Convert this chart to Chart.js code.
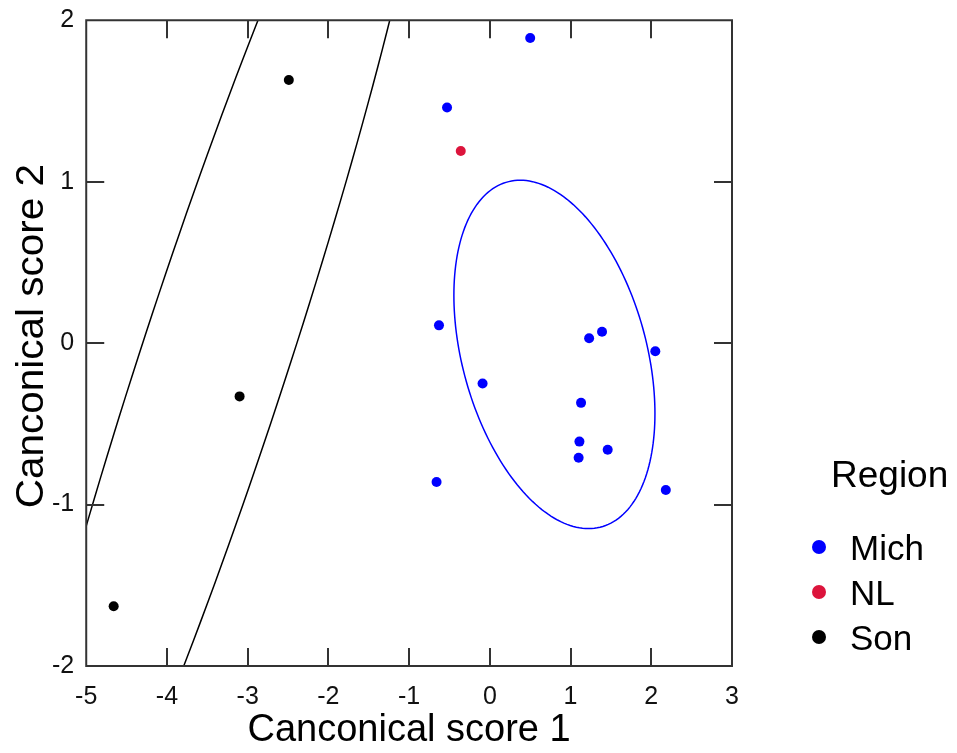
<!DOCTYPE html>
<html>
<head>
<meta charset="utf-8">
<script src="https://cdn.jsdelivr.net/npm/chart.js@4.4.1/dist/chart.umd.min.js"></script>
<style>
  html, body { margin: 0; padding: 0; background: #fff; }
  #wrap { width: 957px; height: 753px; }
</style>
</head>
<body>
<div id="wrap"><canvas id="myChart"></canvas></div>
<script>
const regions = ["Mich", "NL", "Son"];
const regionColors = ["#0000ff", "#dc143c", "#000000"];

const michX = [0.50, -0.53, -0.63, 1.23, 1.39, 2.05, -0.09, 1.13, 1.11, 1.46, 1.10, -0.66, 2.18];
const michY = [1.89, 1.46, 0.11, 0.03, 0.07, -0.05, -0.25, -0.37, -0.61, -0.66, -0.71, -0.86, -0.91];
const nlX = [-0.36];
const nlY = [1.19];
const sonX = [-2.49, -3.10, -4.66];
const sonY = [1.63, -0.33, -1.63];

// group ellipses: centre and covariance (xx, xy, yy)
const ellipseColors = ["#0000ff", "#000000"];
const ellipseCenters = [[0.80, -0.07], [-3.41, -0.10]];
const ellipseCov = [[1.551, -0.456, 1.164], [7.69, 10.51, 16.3]];

const xTicks = [-5, -4, -3, -2, -1, 0, 1, 2, 3];
const yTicks = [-2, -1, 0, 1, 2];

const FONT = "'Liberation Sans', Arial, sans-serif";

function pts(xs, ys) {
  return xs.map((x, i) => ({ x: x, y: ys[i] }));
}

const ellipsePlugin = {
  id: "ellipses",
  beforeDatasetsDraw(chart) {
    const { ctx, chartArea: a, scales: { x, y } } = chart;
    ctx.save();
    ctx.beginPath();
    ctx.rect(a.left, a.top, a.right - a.left, a.bottom - a.top);
    ctx.clip();
    ellipseCenters.forEach((c, k) => {
      const [sxx, sxy, syy] = ellipseCov[k];
      const l11 = Math.sqrt(sxx);
      const l21 = sxy / l11;
      const l22 = Math.sqrt(syy - l21 * l21);
      ctx.beginPath();
      for (let i = 0; i <= 200; i++) {
        const t = (i / 200) * Math.PI * 2;
        const px = x.getPixelForValue(c[0] + l11 * Math.cos(t));
        const py = y.getPixelForValue(c[1] + l21 * Math.cos(t) + l22 * Math.sin(t));
        if (i === 0) ctx.moveTo(px, py); else ctx.lineTo(px, py);
      }
      ctx.strokeStyle = ellipseColors[k];
      ctx.lineWidth = 1.5;
      ctx.stroke();
    });
    ctx.restore();
  }
};

const framePlugin = {
  id: "frame",
  afterDraw(chart) {
    const { ctx, chartArea: a, scales: { x, y } } = chart;
    const len = 18;
    ctx.save();
    ctx.strokeStyle = "#333";
    ctx.lineWidth = 2;
    ctx.strokeRect(a.left, a.top, a.right - a.left, a.bottom - a.top);
    ctx.beginPath();
    xTicks.slice(1, -1).forEach(v => {
      const px = Math.round(x.getPixelForValue(v));
      ctx.moveTo(px, a.bottom); ctx.lineTo(px, a.bottom - len);
      ctx.moveTo(px, a.top); ctx.lineTo(px, a.top + len);
    });
    yTicks.slice(1, -1).forEach(v => {
      const py = Math.round(y.getPixelForValue(v));
      ctx.moveTo(a.left, py); ctx.lineTo(a.left + len, py);
      ctx.moveTo(a.right, py); ctx.lineTo(a.right - len, py);
    });
    ctx.stroke();

    // y axis title, drawn a little stretched like the original
    ctx.fillStyle = "#000";
    ctx.font = "38px " + FONT;
    ctx.textAlign = "center";
    ctx.textBaseline = "middle";
    ctx.translate(33, (a.top + a.bottom) / 2 - 7);
    ctx.rotate(-Math.PI / 2);
    ctx.scale(1.065, 1);
    ctx.fillText("Canconical score 2", 0, 0);
    ctx.restore();
  }
};

const legendPlugin = {
  id: "regionLegend",
  afterDraw(chart) {
    const { ctx } = chart;
    ctx.save();
    ctx.fillStyle = "#000";
    ctx.textAlign = "left";
    ctx.textBaseline = "alphabetic";
    ctx.font = "37px " + FONT;
    ctx.fillText("Region", 831, 487);
    ctx.font = "35px " + FONT;
    chart.data.datasets.forEach((ds, i) => {
      const cy = 547 + i * 45;
      ctx.beginPath();
      ctx.arc(819, cy, 7, 0, Math.PI * 2);
      ctx.fillStyle = ds.backgroundColor;
      ctx.fill();
      ctx.fillStyle = "#000";
      ctx.fillText(ds.label, 850, cy + 13);
    });
    ctx.restore();
  }
};

const ctx = document.getElementById("myChart").getContext("2d");
const myChart = new Chart(ctx, {
  type: "scatter",
  plugins: [ellipsePlugin, framePlugin, legendPlugin],
  data: {
    datasets: [
      { label: regions[0], data: pts(michX, michY), backgroundColor: regionColors[0], borderColor: regionColors[0] },
      { label: regions[1], data: pts(nlX, nlY), backgroundColor: regionColors[1], borderColor: regionColors[1] },
      { label: regions[2], data: pts(sonX, sonY), backgroundColor: regionColors[2], borderColor: regionColors[2] }
    ]
  },
  options: {
    responsive: true,
    maintainAspectRatio: false,
    animation: false,
    layout: { padding: { top: 16, left: 40, right: 225, bottom: 0 } },
    elements: { point: { radius: 5, borderWidth: 0, hoverRadius: 5 } },
    plugins: {
      legend: { display: false },
      tooltip: { enabled: false }
    },
    scales: {
      x: {
        type: "linear",
        min: -5,
        max: 3,
        afterBuildTicks: s => { s.ticks = xTicks.map(v => ({ value: v })); },
        grid: { display: false, drawTicks: false },
        border: { display: false },
        ticks: {
          padding: 19,
          color: "#111",
          font: { family: FONT, size: 25, lineHeight: 1 },
          maxRotation: 0
        },
        title: {
          display: true,
          text: "Canconical score 1",
          color: "#000",
          font: { family: FONT, size: 38, lineHeight: 1 },
          padding: { top: -17, bottom: 3 }
        }
      },
      y: {
        type: "linear",
        min: -2,
        max: 2,
        afterBuildTicks: s => { s.ticks = yTicks.map(v => ({ value: v })); },
        grid: { display: false, drawTicks: false },
        border: { display: false },
        ticks: {
          padding: 12,
          color: "#111",
          font: { family: FONT, size: 25, lineHeight: 0.66 }
        }
      }
    }
  }
});
</script>
</body>
</html>
